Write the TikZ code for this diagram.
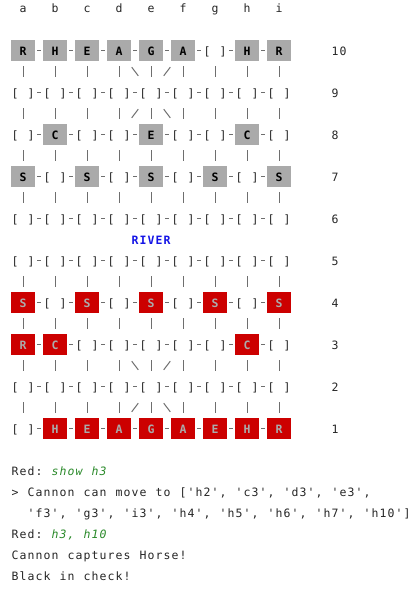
\documentclass[tikz,border=0pt]{standalone}
\usepackage{fontspec}
\setmonofont{DejaVu Sans Mono}
\usetikzlibrary{calc}
\definecolor{ink}{HTML}{262626}
\definecolor{conn}{HTML}{6E6E6E}
\definecolor{bpiece}{HTML}{AAAAAA}
\definecolor{rpiece}{HTML}{CC0000}
\definecolor{rtext}{HTML}{ABABAB}
\definecolor{rivercol}{HTML}{1414E6}
\definecolor{cmd}{HTML}{2A8A2A}
\makeatletter
\def\fwEnd{FWEND}
\def\fw#1{\fw@a#1\fwEnd}
\def\fw@a#1{\ifx#1\fwEnd\else\makebox[8pt]{#1}\expandafter\fw@a\fi}
\makeatother
\newcommand\monofont{\ttfamily\fontsize{11.5}{14}\selectfont}
\tikzset{
  txt/.style={font=\monofont, text=ink, inner sep=0pt, outer sep=0pt},
  cell/.style={txt, minimum width=24pt, minimum height=21pt, text height=10.4pt, text depth=0pt},
  bcell/.style={cell, fill=bpiece, font=\monofont\bfseries, text=black},
  rcell/.style={cell, fill=rpiece, font=\monofont\bfseries, text=rtext},
  link/.style={draw=conn, line width=1pt},
  hlink/.style={link, shorten <=2pt, shorten >=2pt},
  vlink/.style={link, shorten <=5.25pt, shorten >=5.25pt},
  dlink/.style={link, shorten <=20.9pt, shorten >=20.9pt},
}
\newcommand\boardrow[3]{%
  \foreach \p [count=\c from 0] in {#3}{%
    \pgfmathsetmacro\xx{23+32*\c}%
    \pgfmathsetmacro\yy{50.5+42*(10-#1)}%
    \if\p.%
      \node[cell] (n\c-#1) at (\xx,\yy) {\fw{[~]}};
    \else
      \node[#2cell] (n\c-#1) at (\xx,\yy) {\p};
    \fi
  }%
}
\begin{document}
\begin{tikzpicture}[x=1pt, y=-1pt]
\fill[white] (0,0) rectangle (415,597);
\useasboundingbox (0,0) rectangle (415,597);
% column header
\foreach \l [count=\c from 0] in {a,b,c,d,e,f,g,h,i}{
  \node[txt, anchor=base] (h\c) at ({23+32*\c},12.5) {\l};
}
% board rows
\boardrow{10}{b}{R,H,E,A,G,A,.,H,R}
\boardrow{9}{b}{.,.,.,.,.,.,.,.,.}
\boardrow{8}{b}{.,C,.,.,E,.,.,C,.}
\boardrow{7}{b}{S,.,S,.,S,.,S,.,S}
\boardrow{6}{b}{.,.,.,.,.,.,.,.,.}
\boardrow{5}{r}{.,.,.,.,.,.,.,.,.}
\boardrow{4}{r}{S,.,S,.,S,.,S,.,S}
\boardrow{3}{r}{R,C,.,.,.,.,.,C,.}
\boardrow{2}{r}{.,.,.,.,.,.,.,.,.}
\boardrow{1}{r}{.,H,E,A,G,A,E,H,R}
% row labels
\foreach \r in {10,9,8,7,6,5,4,3,2,1}{
  \node[txt, anchor=base west] (lab\r) at (331,{50.5+42*(10-\r)+5}) {\expandafter\fw\expandafter{\r}};
}
% horizontal links
\foreach \r in {10,9,8,7,6,5,4,3,2,1}{
  \foreach \c [evaluate=\c as \d using int(\c+1)] in {0,...,7}{
    \draw[hlink] (n\c-\r.east) -- (n\d-\r.west);
  }
}
% vertical links
\foreach \r/\s in {10/9,9/8,8/7,7/6,5/4,4/3,3/2,2/1}{
  \foreach \c in {0,...,8}{
    \draw[vlink] (n\c-\r.south) -- (n\c-\s.north);
  }
}
% palace diagonals
\draw[dlink] (n3-10.center) -- (n4-9.center);
\draw[dlink] (n5-10.center) -- (n4-9.center);
\draw[dlink] (n4-9.center) -- (n3-8.center);
\draw[dlink] (n4-9.center) -- (n5-8.center);
\draw[dlink] (n3-3.center) -- (n4-2.center);
\draw[dlink] (n5-3.center) -- (n4-2.center);
\draw[dlink] (n4-2.center) -- (n3-1.center);
\draw[dlink] (n4-2.center) -- (n5-1.center);
% river
\node[txt, anchor=base west, font=\monofont\bfseries, text=rivercol] (river) at (131,244.5) {\fw{RIVER}};
% console text
\node[txt, anchor=base west] (t1) at (11,475.5) {\fw{Red:~}{\color{cmd}\itshape\fw{show~h3}}};
\node[txt, anchor=base west] (t2) at (11,496.5) {\fw{>~Cannon~can~move~to~['h2',~'c3',~'d3',~'e3',}};
\node[txt, anchor=base west] (t3) at (11,517.5) {\fw{~~'f3',~'g3',~'i3',~'h4',~'h5',~'h6',~'h7',~'h10']}};
\node[txt, anchor=base west] (t4) at (11,538.5) {\fw{Red:~}{\color{cmd}\itshape\fw{h3,~h10}}};
\node[txt, anchor=base west] (t5) at (11,559.5) {\fw{Cannon~captures~Horse!}};
\node[txt, anchor=base west] (t6) at (11,580.5) {\fw{Black~in~check!}};
\end{tikzpicture}
\end{document}
